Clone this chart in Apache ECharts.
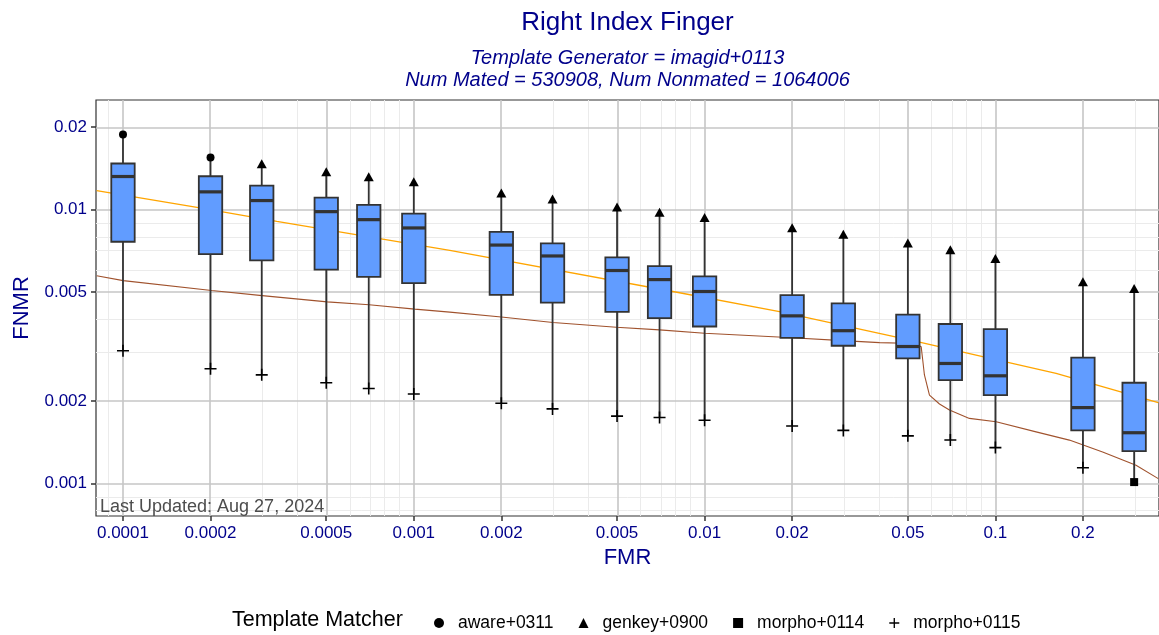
<!DOCTYPE html>
<html style="height: 100%">
<head>
	<meta charset="utf-8">
	<title>Right Index Finger</title>
	<script src="https://cdn.jsdelivr.net/npm/echarts@6/dist/echarts.min.js"></script>
</head>
<body style="height: 100%; margin: 0; background: #fff">
	<div id="chart" style="width: 1159px; height: 635px"></div>
	<script type="text/javascript">

		// FMR operating points (one box per point)
		var fmrLevels = [0.0001, 0.0002, 0.0003, 0.0005, 0.0007, 0.001, 0.002, 0.003, 0.005, 0.007, 0.01, 0.02, 0.03, 0.05, 0.07, 0.1, 0.2, 0.3];
		var fnmrMin = [0.00305, 0.00262, 0.00249, 0.00233, 0.00222, 0.00212, 0.00196, 0.00187, 0.00176, 0.00174, 0.00170, 0.00162, 0.00156, 0.00149, 0.00144, 0.00135, 0.00114, 0.00101];
		var fnmrQ1 = [0.00763, 0.00688, 0.00652, 0.00603, 0.00568, 0.00539, 0.00488, 0.00457, 0.00423, 0.00401, 0.00374, 0.00340, 0.00318, 0.00286, 0.00238, 0.00210, 0.00156, 0.00131];
		var fnmrMedian = [0.01321, 0.01161, 0.01079, 0.00983, 0.00919, 0.00857, 0.00742, 0.00677, 0.00599, 0.00555, 0.00502, 0.00409, 0.00361, 0.00316, 0.00274, 0.00247, 0.00189, 0.00153];
		var fnmrQ3 = [0.01474, 0.01324, 0.01224, 0.01106, 0.01040, 0.00967, 0.00829, 0.00753, 0.00669, 0.00622, 0.00570, 0.00487, 0.00454, 0.00413, 0.00382, 0.00366, 0.00288, 0.00233];
		var fnmrMax = [0.01883, 0.01550, 0.01470, 0.01374, 0.01318, 0.01263, 0.01151, 0.01094, 0.01023, 0.00977, 0.00935, 0.00859, 0.00812, 0.00755, 0.00714, 0.00663, 0.00545, 0.00515];

		// which matcher sits at each whisker end
		var maxMatcher = ['aware+0311', 'aware+0311', 'genkey+0900', 'genkey+0900', 'genkey+0900', 'genkey+0900', 'genkey+0900', 'genkey+0900', 'genkey+0900', 'genkey+0900', 'genkey+0900', 'genkey+0900', 'genkey+0900', 'genkey+0900', 'genkey+0900', 'genkey+0900', 'genkey+0900', 'genkey+0900'];
		var minMatcher = ['morpho+0115', 'morpho+0115', 'morpho+0115', 'morpho+0115', 'morpho+0115', 'morpho+0115', 'morpho+0115', 'morpho+0115', 'morpho+0115', 'morpho+0115', 'morpho+0115', 'morpho+0115', 'morpho+0115', 'morpho+0115', 'morpho+0115', 'morpho+0115', 'morpho+0115', 'morpho+0114'];

		// orange reference curve
		var orangeFmr = [0.0000812, 0.000184, 0.000338, 0.00133, 0.00778, 0.0181, 0.0548, 0.0904, 0.1617, 0.3632];
		var orangeFnmr = [0.01174, 0.01014, 0.00906, 0.00710, 0.00502, 0.00424, 0.00328, 0.00290, 0.00252, 0.00197];

		// brown reference curve
		var brownFmr = [0.0000812, 0.0001002, 0.0002018, 0.000301, 0.000504, 0.000702, 0.001008, 0.00133, 0.0020, 0.00301, 0.00497, 0.0070, 0.0100, 0.0186, 0.02987, 0.03995, 0.05268, 0.05556, 0.05625, 0.05701, 0.05933, 0.06423, 0.0695, 0.0814, 0.1006, 0.138, 0.1796, 0.2337, 0.3045, 0.3632];
		var brownFnmr = [0.00573, 0.00550, 0.00506, 0.00485, 0.00460, 0.00449, 0.00433, 0.00422, 0.00405, 0.003866, 0.003718, 0.003634, 0.003535, 0.003418, 0.00332, 0.003266, 0.003243, 0.003157, 0.00282, 0.002487, 0.00210, 0.001948, 0.001851, 0.001726, 0.001677, 0.001541, 0.001438, 0.001302, 0.001164, 0.00104];

		// axis breaks
		var xTicks = [0.0001, 0.0002, 0.0005, 0.001, 0.002, 0.005, 0.01, 0.02, 0.05, 0.1, 0.2];
		var xMinor = [0.00009, 0.0003, 0.0004, 0.0006, 0.0007, 0.0008, 0.0009, 0.003, 0.004, 0.006, 0.007, 0.008, 0.009, 0.03, 0.04, 0.06, 0.07, 0.08, 0.09, 0.3];
		var yTicks = [0.001, 0.002, 0.005, 0.01, 0.02];
		var yMinor = [0.0008, 0.0009, 0.003, 0.004, 0.006, 0.007, 0.008, 0.009];

		var lg = Math.log10;
		var FONT = 'Liberation Sans, Arial, sans-serif';
		var NAVY = '#00008B';
		var plusPath = 'path://M5.2,0H6.8V12H5.2Z M0,5.2H12V6.8H0Z';
		var shapes = {
			'aware+0311': {symbol: 'circle', size: 8},
			'genkey+0900': {symbol: 'triangle', size: [10, 9]},
			'morpho+0114': {symbol: 'rect', size: 8},
			'morpho+0115': {symbol: plusPath, size: 12}
		};
		var matchers = ['aware+0311', 'genkey+0900', 'morpho+0114', 'morpho+0115'];

		var boxData = fmrLevels.map(function(f, i){
			return [lg(f), lg(fnmrMin[i]), lg(fnmrQ1[i]), lg(fnmrMedian[i]), lg(fnmrQ3[i]), lg(fnmrMax[i])];
		});

		var pointsFor = function(name){
			var out = [];
			for (var i = 0; i < fmrLevels.length; i++) {
				if (maxMatcher[i] == name) out.push([lg(fmrLevels[i]), lg(fnmrMax[i])]);
				if (minMatcher[i] == name) out.push([lg(fmrLevels[i]), lg(fnmrMin[i])]);
			}
			return out;
		};

		var curve = function(xs, ys){
			return xs.map(function(x, i){ return [lg(x), lg(ys[i])]; });
		};

		// grid lines drawn as mark lines so they can sit at the log breaks
		var gridLines = function(xs, ys, color, width, z){
			return {
				type: 'line', data: [], z: z, silent: true,
				markLine: {
					silent: true, symbol: 'none', animation: false, z: z,
					label: {show: false},
					lineStyle: {color: color, width: width, type: 'solid'},
					emphasis: {disabled: true},
					data: xs.map(function(v){ return {xAxis: lg(v)}; })
						.concat(ys.map(function(v){ return {yAxis: lg(v)}; }))
				}
			};
		};

		var fmtLog = function(v){ return String(+Math.pow(10, v).toPrecision(1)); };

		var series = [
			gridLines(xMinor, yMinor, '#ebebeb', 1, 0),
			gridLines(xTicks, yTicks, '#c6c6c6', 1.6, 1),
			{
				type: 'line', data: curve(orangeFmr, orangeFnmr), z: 2,
				showSymbol: false, smooth: false, silent: true,
				lineStyle: {color: '#FFA500', width: 1.3}
			},
			{
				type: 'line', data: curve(brownFmr, brownFnmr), z: 2,
				showSymbol: false, silent: true,
				lineStyle: {color: '#A0522D', width: 1.1}
			},
			{
				type: 'custom', z: 3, silent: true,
				data: boxData,
				encode: {x: 0, y: [1, 2, 3, 4, 5]},
				renderItem: function(params, api){
					var x = api.value(0);
					var pMin = api.coord([x, api.value(1)]);
					var pQ1 = api.coord([x, api.value(2)]);
					var pMed = api.coord([x, api.value(3)]);
					var pQ3 = api.coord([x, api.value(4)]);
					var pMax = api.coord([x, api.value(5)]);
					var cx = pMed[0], hw = 11.7;
					var stroke = '#333333';
					return {
						type: 'group',
						children: [
							{type: 'line', shape: {x1: cx, y1: pMin[1], x2: cx, y2: pQ1[1]}, style: {stroke: stroke, lineWidth: 1.8}},
							{type: 'line', shape: {x1: cx, y1: pQ3[1], x2: cx, y2: pMax[1]}, style: {stroke: stroke, lineWidth: 1.8}},
							{type: 'rect', shape: {x: cx - hw, y: pQ3[1], width: hw * 2, height: pQ1[1] - pQ3[1]}, style: {fill: '#619CFF', stroke: stroke, lineWidth: 1.8}},
							{type: 'line', shape: {x1: cx - hw, y1: pMed[1], x2: cx + hw, y2: pMed[1]}, style: {stroke: stroke, lineWidth: 3.2}}
						]
					};
				}
			}
		];

		matchers.forEach(function(name){
			series.push({
				name: name, type: 'scatter', z: 4, silent: true,
				symbol: shapes[name].symbol,
				symbolSize: shapes[name].size,
				itemStyle: {color: '#000', opacity: 1},
				data: pointsFor(name)
			});
		});

		var myChart = echarts.init(document.getElementById('chart'));
		var option = {
			animation: false,
			backgroundColor: '#fff',
			textStyle: {fontFamily: FONT},
			grid: {
				left: 96, right: 0, top: 100, bottom: 119,
				show: true, borderColor: '#333', borderWidth: 1.2,
				backgroundColor: 'transparent',
				containLabel: false, outerBoundsMode: 'none'
			},
			xAxis: {
				type: 'value',
				min: -4.0928, max: -0.4374,
				name: 'FMR', nameLocation: 'middle', nameGap: 31,
				nameTextStyle: {color: NAVY, fontSize: 22, fontFamily: FONT},
				axisLine: {show: false},
				axisTick: {show: true, length: 5, customValues: xTicks.map(lg), lineStyle: {color: '#333', width: 1.5}},
				axisLabel: {customValues: xTicks.map(lg), formatter: fmtLog, color: NAVY, fontSize: 17, margin: 9, fontFamily: FONT},
				splitLine: {show: false},
				minorSplitLine: {show: false}
			},
			yAxis: {
				type: 'value',
				min: -3.1196, max: -1.5995,
				name: 'FNMR', nameLocation: 'middle', nameGap: 63, nameRotate: 90,
				nameTextStyle: {color: NAVY, fontSize: 22, fontFamily: FONT},
				axisLine: {show: false},
				axisTick: {show: true, length: 5, customValues: yTicks.map(lg), lineStyle: {color: '#333', width: 1.5}},
				axisLabel: {customValues: yTicks.map(lg), formatter: fmtLog, color: NAVY, fontSize: 17, margin: 9, fontFamily: FONT},
				splitLine: {show: false},
				minorSplitLine: {show: false}
			},
			legend: {
				left: 429, top: 609,
				itemWidth: 10, itemHeight: 10, itemGap: 25,
				selectedMode: false,
				textStyle: {color: '#000', fontSize: 17.5, fontFamily: FONT, padding: [0, 0, 0, 9]},
				data: matchers.map(function(name){
					return {name: name, icon: shapes[name].symbol};
				})
			},
			graphic: [
				{type: 'text', x: 627.5, y: 23, z: 10, style: {text: 'Right Index Finger', font: '26px ' + FONT, fill: NAVY, textAlign: 'center', textVerticalAlign: 'middle'}},
				{type: 'text', x: 627.5, y: 58, z: 10, style: {text: 'Template Generator = imagid+0113', font: 'italic 20px ' + FONT, fill: NAVY, textAlign: 'center', textVerticalAlign: 'middle'}},
				{type: 'text', x: 627.5, y: 80, z: 10, style: {text: 'Num Mated = 530908, Num Nonmated = 1064006', font: 'italic 20px ' + FONT, fill: NAVY, textAlign: 'center', textVerticalAlign: 'middle'}},
				{type: 'text', x: 232, y: 620, z: 10, style: {text: 'Template Matcher', font: '21.5px ' + FONT, fill: '#000', textAlign: 'left', textVerticalAlign: 'middle'}},
				{type: 'text', x: 100, y: 507, z: 10, style: {text: 'Last Updated: Aug 27, 2024', font: '18px ' + FONT, fill: '#4d4d4d', textAlign: 'left', textVerticalAlign: 'middle'}}
			],
			series: series
		};
		myChart.setOption(option);

	</script>
</body>
</html>
